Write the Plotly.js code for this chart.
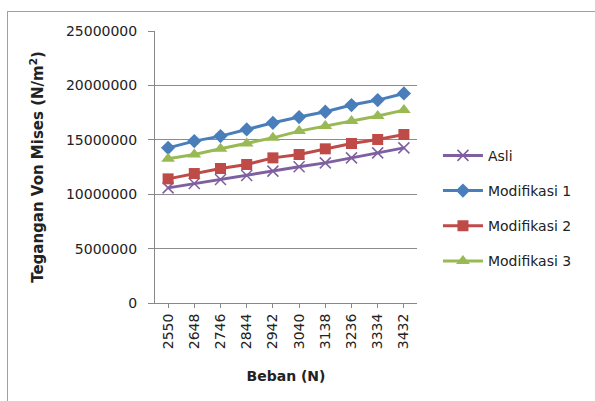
<!DOCTYPE html>
<html>
<head>
<meta charset="utf-8">
<script src="https://cdn.plot.ly/plotly-3.0.1.min.js"></script>
<style>
  html, body { margin: 0; padding: 0; background: #fff; }
  #wrap { position: absolute; left: 7px; top: 11px; width: 588px; height: 390px;
          border-left: 1px solid #a0a0a0; border-top: 1px solid #a0a0a0; overflow: hidden; }
  #chart { width: 587px; height: 389px; }
</style>
</head>
<body>
<div id="wrap"><div id="chart"></div></div>
<script>
const beban = ['2550','2648','2746','2844','2942','3040','3138','3236','3334','3432'];
const asli = [10580000, 10980000, 11350000, 11720000, 12120000, 12520000, 12880000, 13340000, 13800000, 14260000];
const modifikasi1 = [14260000, 14880000, 15340000, 15950000, 16560000, 17090000, 17580000, 18190000, 18650000, 19260000];
const modifikasi2 = [11410000, 11900000, 12360000, 12730000, 13340000, 13650000, 14170000, 14660000, 15030000, 15490000];
const modifikasi3 = [13250000, 13650000, 14170000, 14660000, 15180000, 15800000, 16260000, 16720000, 17180000, 17730000];
const yTicks = [0, 5000000, 10000000, 15000000, 20000000, 25000000];

const FONT = '"DejaVu Sans", sans-serif';
function tr(name, y, color, symbol, size, group) {
  return {
    x: beban, y: y, name: name, type: 'scatter', mode: 'lines+markers',
    legendgroup: group,
    line: { color: color, width: 3 },
    marker: { symbol: symbol, size: size, color: color,
              line: { color: color, width: symbol === 'x-thin' ? 1.5 : 0 } }
  };
}
const data = [
  tr('Asli', asli, '#7E60A0', 'x-thin', 11, 'a'),
  tr('Modifikasi 1', modifikasi1, '#4A7EBB', 'diamond', 11, 'b'),
  tr('Modifikasi 2', modifikasi2, '#BE4B48', 'square', 11, 'c'),
  tr('Modifikasi 3', modifikasi3, '#98B954', 'triangle-up', 12, 'd')
];
const layout = {
  width: 587, height: 389,
  margin: { l: 147, r: 178, t: 19, b: 98 },
  paper_bgcolor: '#fff', plot_bgcolor: '#fff',
  font: { family: FONT, size: 13, color: '#222' },
  showlegend: true,
  legend: { x: 1.08, xanchor: 'left', y: 0.6, yanchor: 'top',
            traceorder: 'grouped', tracegroupgap: 14, itemwidth: 40,
            font: { family: FONT, size: 14, color: '#222' } },
  xaxis: {
    type: 'category', range: [-0.5, 9.5],
    tickvals: beban, ticktext: beban, tickangle: -90,
    ticks: 'outside', ticklen: 4, tickcolor: '#888',
    showline: true, linecolor: '#888', linewidth: 1,
    showgrid: false, zeroline: false,
    tickfont: { family: FONT, size: 14, color: '#222' },
    title: { text: '<b>Beban (N)</b>', font: { family: FONT, size: 14, color: '#222' }, standoff: 22 }
  },
  yaxis: {
    range: [0, 25000000], tickvals: yTicks, ticktext: yTicks.map(String),
    ticks: 'outside', ticklen: 6, tickcolor: '#888', ticklabelstandoff: 8,
    showline: true, linecolor: '#888', linewidth: 1,
    showgrid: true, gridcolor: '#8c8c8c', gridwidth: 1, zeroline: false,
    tickfont: { family: FONT, size: 14, color: '#222' },
    title: { text: '<b>Tegangan Von Mises (N/m<sup>2</sup>)</b>', font: { family: FONT, size: 15, color: '#222' }, standoff: 18 }
  }
};
Plotly.newPlot('chart', data, layout, { displayModeBar: false, staticPlot: true });
</script>
</body>
</html>
